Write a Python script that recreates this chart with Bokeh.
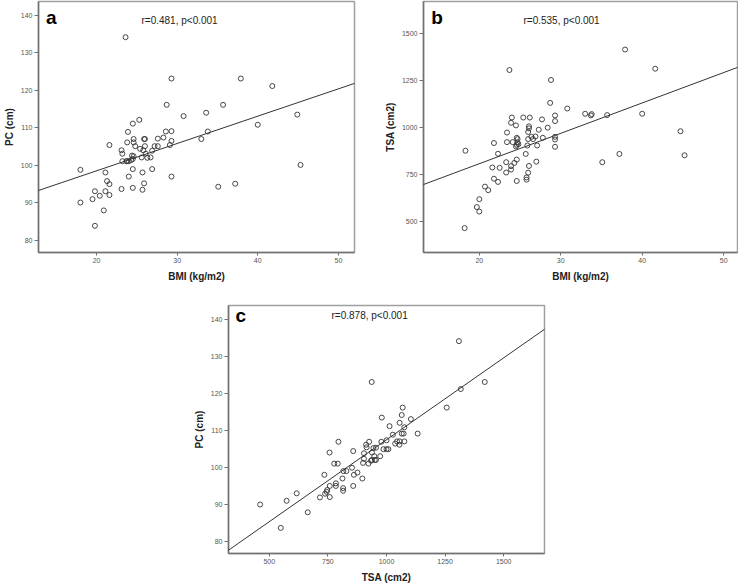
from bokeh.plotting import figure
from bokeh.layouts import column, row
from bokeh.models import Range1d, FixedTicker, Slope, Label, Spacer
from bokeh.embed import file_html
from bokeh.resources import INLINE

# ---- data ----
bmi_a = [23.6, 29.3, 37.9, 41.8, 28.7, 35.7, 33.6, 30.8, 44.9, 25.3, 40.0, 24.5, 23.9, 28.6, 29.3, 33.8,
         28.3, 27.6, 24.6, 25.9, 26.0, 33.0, 29.3, 24.6, 23.8, 21.6, 26.0, 24.8, 27.2, 27.6, 29.1, 23.1,
         25.4, 26.9, 25.8, 23.2, 26.1, 24.4, 24.6, 25.6, 26.3, 26.7, 24.5, 23.2, 23.7, 23.8, 24.0, 24.3,
         18.0, 21.1, 24.5, 25.7, 26.9, 24.0, 29.3, 21.3, 21.6, 25.9, 37.2, 35.1, 45.3, 23.1, 24.5, 25.7,
         21.1, 19.8, 20.4, 19.5, 21.6, 18.0, 20.9, 19.8]
pc_a = [134.1, 123.1, 123.1, 121.1, 116.1, 116.1, 114.0, 113.1, 113.5, 112.1, 110.8, 111.1, 108.9, 109.0, 109.1, 109.0,
        107.4, 107.1, 107.0, 107.0, 107.0, 107.0, 106.5, 106.1, 106.1, 105.4, 105.1, 105.1, 105.1, 105.1, 105.4, 104.0,
        104.4, 103.9, 104.0, 103.1, 103.1, 102.6, 102.4, 102.1, 102.0, 102.1, 101.7, 101.1, 101.1, 101.1, 101.1, 101.4,
        98.8, 98.1, 99.0, 98.1, 99.0, 97.0, 97.0, 95.8, 95.0, 95.2, 95.1, 94.3, 100.1, 93.7, 94.0, 93.5,
        93.1, 93.1, 91.9, 91.0, 92.1, 90.1, 88.0, 83.9]

bmi_b = [37.9, 41.6, 23.7, 28.8, 28.7, 30.8, 33.0, 33.7, 33.8, 35.7, 40.0, 24.0, 25.4, 26.2, 29.3, 29.3,
         27.7, 23.9, 24.5, 26.1, 26.1, 28.4, 27.3, 26.0, 23.4, 44.7, 29.3, 26.9, 26.4, 27.8, 24.6, 24.7,
         26.0, 26.6, 29.3, 21.8, 23.4, 24.1, 24.7, 24.8, 24.6, 25.9, 27.1, 24.5, 29.3, 18.3, 22.3, 25.7,
         37.2, 45.2, 24.6, 23.3, 24.3, 35.1, 27.0, 26.1, 21.6, 22.5, 23.9, 23.9, 23.3, 26.0, 21.8, 22.3,
         24.6, 25.8, 25.8, 20.7, 21.1, 20.0, 19.7, 20.0, 18.2]
tsa_b = [1416, 1314, 1307, 1254, 1132, 1102, 1074, 1065, 1072, 1067, 1074, 1054, 1054, 1054, 1065, 1035,
         1044, 1026, 1012, 1007, 996, 1000, 989, 977, 974, 981, 951, 953, 951, 946, 946, 939,
         939, 939, 937, 918, 923, 923, 921, 912, 908, 905, 905, 900, 898, 877, 861, 860,
         860, 853, 830, 816, 812, 816, 819, 796, 788, 786, 795, 777, 761, 760, 728, 711,
         716, 735, 723, 686, 667, 619, 577, 553, 465]

tsa_c = [1309, 937, 1419, 1317, 1257, 1069, 1065, 980, 1104, 1056, 1013, 1076, 1133, 1073, 1065, 1027,
         795, 926, 978, 1000, 1076, 1045, 1056, 1037, 1055, 913, 915, 944, 955, 987, 1000, 1008,
         757, 858, 904, 938, 973, 948, 950, 938, 934, 900, 923, 955, 904, 777, 792, 853,
         816, 829, 876, 735, 861, 812, 897, 784, 784, 758, 858, 815, 815, 617, 574, 747,
         745, 738, 758, 716, 461, 664, 549]
pc_c = [134.1, 123.1, 123.1, 121.2, 116.2, 116.2, 114.2, 113.5, 113.1, 112.1, 111.2, 110.9, 109.2, 109.2, 109.2, 108.9,
        107.0, 107.0, 107.0, 107.4, 107.1, 107.1, 107.1, 106.5, 106.2, 106.2, 105.5, 105.3, 105.4, 105.0, 105.0, 105.0,
        104.1, 104.5, 103.9, 104.1, 103.1, 103.1, 102.1, 102.1, 101.9, 101.3, 101.1, 102.1, 102.4, 101.1, 101.1, 100.0,
        99.1, 99.1, 98.7, 98.1, 98.1, 97.1, 97.1, 95.8, 95.1, 95.1, 95.1, 94.5, 93.8, 93.1, 91.1, 94.0,
        93.5, 93.0, 92.1, 92.0, 90.1, 88.0, 83.8]

# fitted lines (intercept, slope) as drawn in the reference
fit_a = (84.0, 0.727)
fit_b = (484.4, 16.18)
fit_c = (63.4, 0.04414)

ticks_bmi = [20, 30, 40, 50]
ticks_pc = [80, 90, 100, 110, 120, 130, 140]
ticks_tsa_b = [500, 750, 1000, 1250, 1500]
ticks_tsa_c = [500, 750, 1000, 1250, 1500]

labels = {
    "a": ("a", "r=0.481, p<0.001"),
    "b": ("b", "r=0.535, p<0.001"),
    "c": ("c", "r=0.878, p<0.001"),
}

FONT = "Liberation Sans"


def make_panel(xs, ys, fit, xr, yr, xt, yt, xlabel, ylabel, letter, note,
               letter_pos, note_pos, w, h, bl, br, bt, bb):
    p = figure(width=w, height=h, x_range=Range1d(*xr), y_range=Range1d(*yr),
               output_backend="svg", toolbar_location=None,
               min_border_left=bl, min_border_right=br, min_border_top=bt, min_border_bottom=bb)
    p.grid.visible = False
    p.outline_line_color = "#a0a0a0"
    p.outline_line_width = 1.5
    p.background_fill_color = "white"
    p.border_fill_color = "white"
    p.xaxis.ticker = FixedTicker(ticks=xt)
    p.yaxis.ticker = FixedTicker(ticks=yt)
    for ax in (p.xaxis[0], p.yaxis[0]):
        ax.axis_line_color = "#707070"
        ax.axis_line_width = 1.5
        ax.major_tick_line_color = "#707070"
        ax.minor_tick_line_color = None
        ax.major_tick_in = 0
        ax.major_label_text_font = FONT
        ax.major_label_text_font_size = "7px"
        ax.major_label_text_color = "#555555"
        ax.major_label_standoff = 2
        ax.axis_label_text_font = FONT
        ax.axis_label_text_font_style = "bold"
        ax.axis_label_text_font_size = "10px"
        ax.axis_label_text_color = "#222222"
        ax.axis_label_standoff = 3
    p.xaxis.major_tick_out = 3
    p.yaxis.major_tick_out = 4
    p.xaxis.axis_label_standoff = 5
    p.xaxis.axis_label = xlabel
    p.yaxis.axis_label = ylabel

    p.add_layout(Slope(gradient=fit[1], y_intercept=fit[0], line_color="#333333", line_width=1))
    p.scatter(xs, ys, marker="circle", size=5, fill_color=None, line_color="#333333", line_width=0.9)

    p.add_layout(Label(x=letter_pos[0], y=letter_pos[1], text=letter, text_font=FONT,
                       text_font_style="bold", text_font_size="19px", text_color="black",
                       text_align="center", text_baseline="middle"))
    p.add_layout(Label(x=note_pos[0], y=note_pos[1], text=note, text_font=FONT,
                       text_font_size="10px", text_color="#222222",
                       text_align="center", text_baseline="middle"))
    return p


pa = make_panel(bmi_a, pc_a, fit_a, (12.8, 52.0), (76.8, 143.6), ticks_bmi, ticks_pc,
                "BMI (kg/m2)", "PC (cm)", *labels["a"], (14.4, 139.4), (30.3, 138.6),
                381, 284, 32, 27, 1, 30)
pb = make_panel(bmi_b, tsa_b, fit_b, (13.15, 51.7), (335, 1672), ticks_bmi, ticks_tsa_b,
                "BMI (kg/m2)", "TSA (cm2)", *labels["b"], (14.8, 1589), (30.1, 1572),
                357, 284, 42, 1, 1, 30)
pc = make_panel(tsa_c, pc_c, fit_c, (326, 1674), (76.9, 143.7), ticks_tsa_c, ticks_pc,
                "TSA (cm2)", "PC (cm)", *labels["c"], (378, 140.9), (928, 140.9),
                364, 301, 34, 10, 21, 27)

layout = column(row(pa, pb, spacing=0), row(Spacer(width=190), pc, spacing=0), spacing=0)

open("out.html", "w").write(file_html(layout, INLINE))
